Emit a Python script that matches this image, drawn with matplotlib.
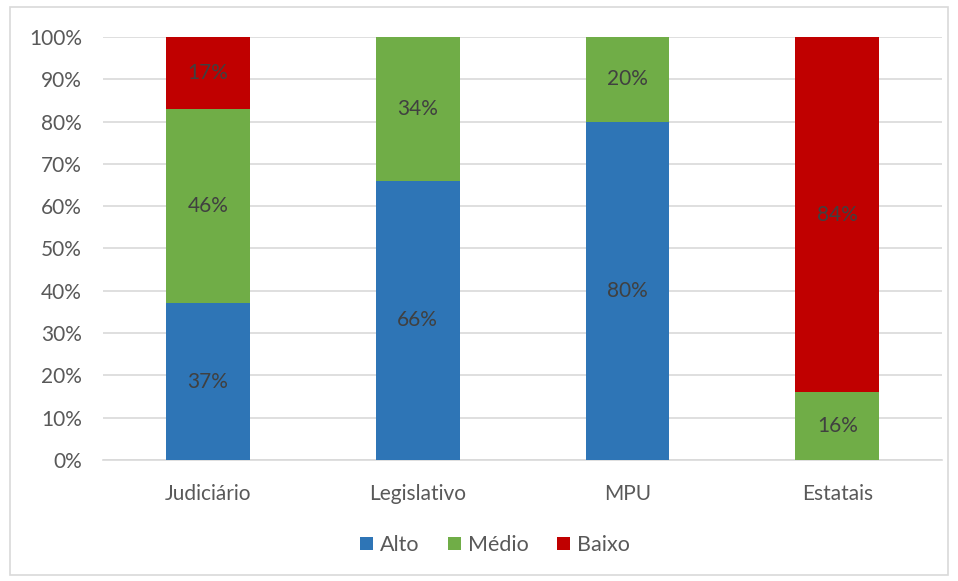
import matplotlib
matplotlib.use('Agg')
import matplotlib.pyplot as plt
import numpy as np
from matplotlib.patches import Rectangle

categories = ['Judiciário', 'Legislativo', 'MPU', 'Estatais']
alto = [37, 66, 80, 0]
medio = [46, 34, 20, 16]
baixo = [17, 0, 0, 84]
series_names = ['Alto', 'Médio', 'Baixo']
colors = ['#2E75B6', '#70AD47', '#C00000']

plt.rcParams['font.family'] = ['Lato', 'DejaVu Sans']
text_color = '#595959'

fig = plt.figure(figsize=(9.58, 5.81), dpi=100)
ax = fig.add_axes([0.1075, 0.2083, 0.876, 0.728])

# frame around the chart area
fig.patches.append(Rectangle((10 / 958, 6 / 581), 938 / 958, 568 / 581,
                             transform=fig.transFigure, fill=False,
                             edgecolor='#D9D9D9', linewidth=1.2))

x = np.arange(len(categories))
bottom = np.zeros(len(categories))
for name, vals, c in zip(series_names, [alto, medio, baixo], colors):
    vals = np.array(vals, dtype=float)
    ax.bar(x, vals, 0.4, bottom=bottom, color=c, label=name, zorder=3)
    for xi, b, v in zip(x, bottom, vals):
        if v > 0:
            ax.text(xi, b + v / 2, f'{int(v)}%', ha='center', va='center',
                    fontsize=15, color='#404040', zorder=4)
    bottom += vals

ax.set_xlim(-0.5, 3.5)
ax.set_ylim(0, 100)
ax.set_yticks(np.arange(0, 101, 10))
ax.set_yticklabels([f'{v}%' for v in range(0, 101, 10)])
ax.set_xticks(x)
ax.set_xticklabels(categories)
ax.tick_params(axis='both', length=0, labelsize=15, labelcolor=text_color)
ax.tick_params(axis='y', pad=15)
ax.tick_params(axis='x', pad=17)
ax.yaxis.grid(True, color='#D9D9D9', linewidth=1.2, zorder=0)
for s in ['top', 'right', 'left']:
    ax.spines[s].set_visible(False)
ax.spines['bottom'].set_color('#D9D9D9')
ax.spines['bottom'].set_linewidth(1.2)

leg = ax.legend(loc='center', bbox_to_anchor=(495 / 958, 1 - 545 / 581), bbox_transform=fig.transFigure,
                ncol=3, frameon=False, fontsize=15.5, handlelength=0.6, handleheight=0.6,
                handletextpad=0.35, columnspacing=1.3)
for t in leg.get_texts():
    t.set_color(text_color)

fig.savefig('out.png', dpi=100)
